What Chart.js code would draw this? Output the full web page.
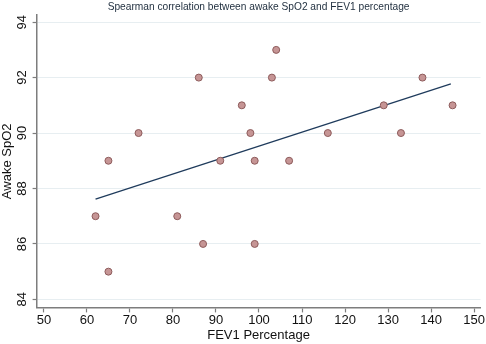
<!DOCTYPE html>
<html>
<head>
<meta charset="utf-8">
<script src="https://cdn.jsdelivr.net/npm/chart.js@4.4.0/dist/chart.umd.min.js"></script>
<style>
  html, body { margin: 0; padding: 0; background: #ffffff; }
  #wrap { width: 486px; height: 344px; }
</style>
</head>
<body>
<div id="wrap"><canvas id="scatterChart"></canvas></div>
<script>
// 数据
const fev1Pct = [62, 65, 65, 72, 81, 86, 87, 91, 96, 98, 99, 99, 103, 104, 107, 116, 129, 133, 138, 145];
const awakeSpo2 = [87, 89, 85, 90, 87, 92, 86, 89, 91, 90, 89, 86, 92, 93, 89, 90, 91, 90, 92, 91];
const fitX = [62, 144.6];
const fitY = [87.62, 91.77];
const xTicks = [50, 60, 70, 80, 90, 100, 110, 120, 130, 140, 150];
const yTicks = [84, 86, 88, 90, 92, 94];

const FONT = '"Liberation Sans", Arial, Helvetica, sans-serif';
const AXIS_COLOR = '#7d7d7d';

// y轴标签旋转绘制
const rotatedYLabels = {
    id: 'rotatedYLabels',
    afterDraw(chart) {
        const ctx = chart.ctx;
        const y = chart.scales.y;
        ctx.save();
        ctx.fillStyle = '#111111';
        ctx.font = '13px ' + FONT;
        ctx.textAlign = 'center';
        ctx.textBaseline = 'middle';
        yTicks.forEach(v => {
            const py = y.getPixelForValue(v);
            ctx.save();
            ctx.translate(y.right - 14, py);
            ctx.rotate(-Math.PI / 2);
            ctx.fillText(String(v), 0, 0);
            ctx.restore();
        });
        ctx.restore();
    }
};

const ctx = document.getElementById('scatterChart').getContext('2d');
new Chart(ctx, {
    type: 'scatter',
    data: {
        datasets: [
            {
                type: 'line',
                data: fitX.map((x, i) => ({ x: x, y: fitY[i] })),
                borderColor: '#1f3b5c',
                borderWidth: 1.3,
                pointRadius: 0,
                fill: false,
                order: 2
            },
            {
                data: fev1Pct.map((x, i) => ({ x: x, y: awakeSpo2[i] })),
                backgroundColor: '#c69595',
                borderColor: '#8d5b5b',
                borderWidth: 1,
                pointRadius: 3.5,
                order: 1
            }
        ]
    },
    options: {
        responsive: true,
        maintainAspectRatio: false,
        animation: false,
        layout: { padding: { left: 0, right: 4, top: 0, bottom: 0 } },
        plugins: {
            legend: { display: false },
            tooltip: { enabled: false },
            title: {
                display: true,
                fullSize: false,
                text: 'Spearman correlation between awake SpO2 and FEV1 percentage',
                color: '#1e2d3d',
                font: { family: FONT, size: 10.2, weight: 'normal', lineHeight: 1.2 },
                padding: { top: 1.5, bottom: 1.5 }
            }
        },
        scales: {
            x: {
                type: 'linear',
                min: 48.3,
                max: 151.5,
                afterBuildTicks: scale => { scale.ticks = xTicks.map(v => ({ value: v })); },
                grid: {
                    display: true,
                    drawOnChartArea: false,
                    drawTicks: true,
                    tickLength: 5,
                    tickColor: AXIS_COLOR,
                    tickWidth: 1.2
                },
                border: { display: true, color: AXIS_COLOR, width: 1.5 },
                ticks: {
                    color: '#111111',
                    font: { family: FONT, size: 13, lineHeight: 1.1 },
                    padding: 1,
                    maxRotation: 0,
                    autoSkip: false
                },
                title: {
                    display: true,
                    text: 'FEV1 Percentage',
                    color: '#111111',
                    font: { family: FONT, size: 13, lineHeight: 1.1 },
                    padding: { top: 0, bottom: 1 }
                }
            },
            y: {
                type: 'linear',
                min: 83.71,
                max: 94.25,
                afterBuildTicks: scale => { scale.ticks = yTicks.map(v => ({ value: v })); },
                grid: {
                    display: true,
                    color: '#e7eef1',
                    lineWidth: 1,
                    drawTicks: true,
                    tickLength: 4,
                    tickColor: AXIS_COLOR,
                    tickWidth: 1.2
                },
                border: { display: true, color: AXIS_COLOR, width: 1.5 },
                ticks: { display: false },
                title: {
                    display: true,
                    text: 'Awake SpO2',
                    color: '#111111',
                    font: { family: FONT, size: 13, lineHeight: 1.2 },
                    padding: { top: 0, bottom: 17 }
                }
            }
        }
    },
    plugins: [rotatedYLabels]
});
</script>
</body>
</html>
